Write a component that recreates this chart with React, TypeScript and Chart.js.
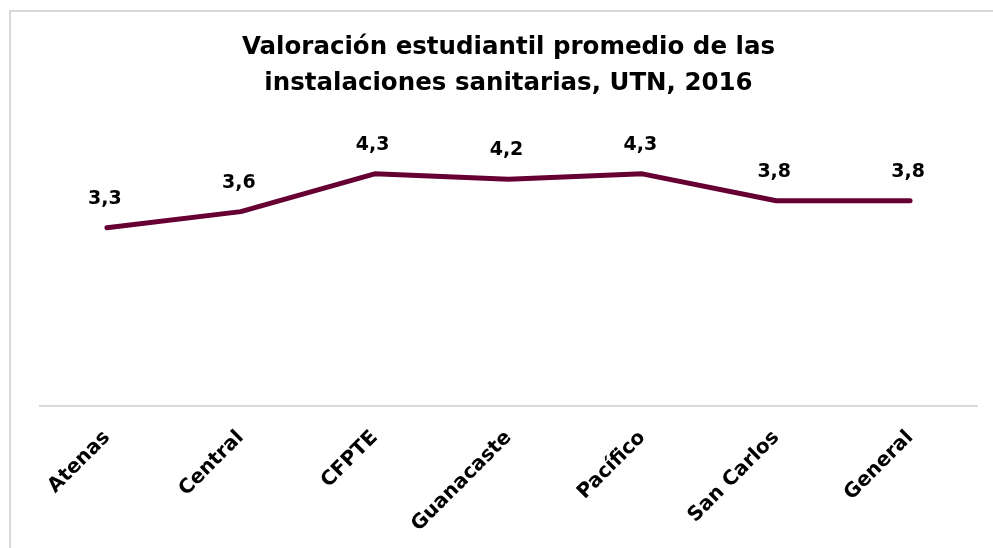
import React, { useEffect, useRef } from "react";
import { Chart, registerables } from "chart.js";

Chart.register(...registerables);

const categories = ["Atenas", "Central", "CFPTE", "Guanacaste", "Pacífico", "San Carlos", "General"];
const values = [3.3, 3.6, 4.3, 4.2, 4.3, 3.8, 3.8];
const titleLines = ["Valoración estudiantil promedio de las", "instalaciones sanitarias, UTN, 2016"];

const FONT = "'DejaVu Sans', sans-serif";
const LINE_COLOR = "#660033";

const dataLabels = {
  id: "dataLabels",
  afterDatasetsDraw(chart: any) {
    const ctx = chart.ctx;
    const meta = chart.getDatasetMeta(0);
    ctx.save();
    ctx.font = `bold 19px ${FONT}`;
    ctx.fillStyle = "#000000";
    ctx.textAlign = "center";
    ctx.textBaseline = "alphabetic";
    meta.data.forEach((pt: any, i: number) => {
      const v = chart.data.datasets[0].data[i] as number;
      ctx.fillText(v.toFixed(1).replace(".", ","), pt.x - 2, pt.y - 24);
    });
    ctx.restore();
  },
};

export default function App() {
  const ref = useRef<HTMLCanvasElement>(null);
  useEffect(() => {
    if (!ref.current) return;
    const chart = new Chart(ref.current, {
      type: "line",
      data: {
        labels: categories,
        datasets: [
          {
            data: values,
            borderColor: LINE_COLOR,
            backgroundColor: LINE_COLOR,
            borderWidth: 5,
            pointRadius: 0,
            tension: 0,
            borderCapStyle: "round",
            borderJoinStyle: "round",
          },
        ],
      },
      options: {
        animation: false,
        responsive: true,
        maintainAspectRatio: false,
        layout: { padding: { left: 40, right: 16, top: 0, bottom: 0 } },
        plugins: {
          legend: { display: false },
          tooltip: { enabled: false },
          title: {
            display: true,
            text: titleLines,
            color: "#000000",
            font: { family: FONT, size: 24.5, weight: "bold", lineHeight: 1.47 },
            padding: { top: 30, bottom: 34 },
          },
        },
        scales: {
          x: {
            offset: true,
            grid: { display: false, drawTicks: false },
            border: { display: true, color: "#d9d9d9", width: 2 },
            ticks: {
              color: "#000000",
              font: { family: FONT, size: 20, weight: "bold" },
              minRotation: 45,
              maxRotation: 45,
              padding: 20,
              autoSkip: false,
            },
            afterFit(scale: any) {
              scale.height = 142;
            },
          },
          y: {
            display: false,
            min: 0,
            max: 5,
          },
        },
      },
      plugins: [dataLabels],
    });
    return () => chart.destroy();
  }, []);

  return (
    <div style={{ position: "fixed", left: 0, top: 0, width: 993, height: 548, background: "#fff" }}>
      <div
        style={{
          position: "absolute",
          left: 9,
          top: 10,
          right: 0,
          bottom: 0,
          borderTop: "2px solid #d9d9d9",
          borderLeft: "2px solid #d9d9d9",
          pointerEvents: "none",
        }}
      />
      <canvas ref={ref} style={{ position: "absolute", left: 0, top: 0 }} />
    </div>
  );
}
